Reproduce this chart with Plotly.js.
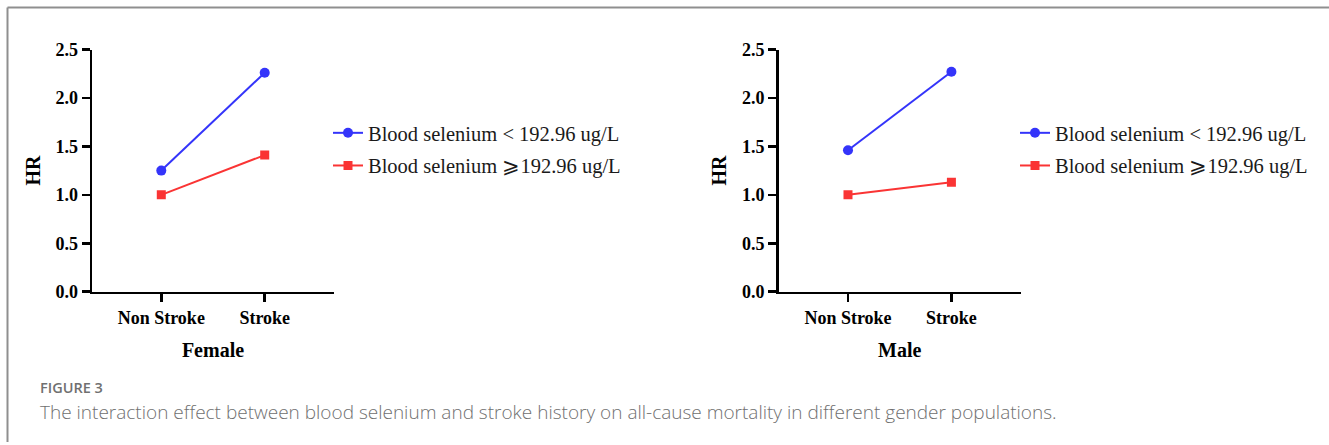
<!DOCTYPE html>
<html>
<head>
<meta charset="utf-8">
<script src="https://cdn.plot.ly/plotly-3.0.1.min.js"></script>
<style>html,body{margin:0;padding:0;background:#fff;}#chart{width:1329px;height:445px;}</style>
</head>
<body>
<div id="chart"></div>
<script>
// ---- data ----
var categories = ['Non Stroke', 'Stroke'];
var femaleLow = [1.25, 2.26];   // Blood selenium < 192.96 ug/L
var femaleHigh = [1.00, 1.41];  // Blood selenium >= 192.96 ug/L
var maleLow = [1.46, 2.27];
var maleHigh = [1.00, 1.13];
var seriesNames = ['Blood selenium < 192.96 ug/L', 'Blood selenium \u2a7e192.96 ug/L'];
var yTicks = [0, 0.5, 1.0, 1.5, 2.0, 2.5];
var panelTitles = ['Female', 'Male'];
var figureLabel = 'FIGURE 3';
var captionText = 'The interaction effect between blood selenium and stroke history on all-cause mortality in different gender populations.';

var W = 1329, H = 445;
function px(x){ return x / W; }
function py(y){ return 1 - y / H; }

var blue = 'rgb(52,52,250)';
var red = 'rgb(250,52,52)';
var serif = '"Liberation Serif", "Times New Roman", serif';

function mk(x, y, name, color, symbol, size, xa, ya, leg, grp){
  return {
    x: x, y: y, name: name, type: 'scatter', mode: 'lines+markers',
    xaxis: xa, yaxis: ya, legend: leg, legendgroup: grp,
    line: {color: color, width: 2},
    marker: {color: color, symbol: symbol, size: size},
    hoverinfo: 'x+y+name'
  };
}

var traces = [
  mk(categories, femaleLow, seriesNames[0], blue, 'circle', 10, 'x', 'y', 'legend', 'a1'),
  mk(categories, femaleHigh, seriesNames[1], red, 'square', 9, 'x', 'y', 'legend', 'a2'),
  mk(categories, maleLow, seriesNames[0], blue, 'circle', 10, 'x2', 'y2', 'legend2', 'b1'),
  mk(categories, maleHigh, seriesNames[1], red, 'square', 9, 'x2', 'y2', 'legend2', 'b2')
];

function xAxis(domain, anchor, title){
  return {
    domain: domain, anchor: anchor, type: 'category',
    range: [-0.67, 1.67], fixedrange: true,
    showline: true, linewidth: 2.5, linecolor: '#000',
    ticks: 'outside', ticklen: 8, tickwidth: 2.5, tickcolor: '#000',
    showgrid: false, zeroline: false,
    tickfont: {family: serif, size: 18, color: '#000', weight: 'bold'},
    title: {text: '<b>' + title + '</b>', font: {family: serif, size: 20, color: '#000'}, standoff: 16}
  };
}
function yAxis(domain, anchor){
  return {
    domain: domain, anchor: anchor, range: [0, 2.5], fixedrange: true,
    tickvals: yTicks, ticktext: yTicks.map(function(v){ return v.toFixed(1); }),
    showline: true, linewidth: 2.5, linecolor: '#000',
    ticks: 'outside', ticklen: 8, tickwidth: 2.5, tickcolor: '#000',
    showgrid: false, zeroline: false,
    tickfont: {family: serif, size: 18, color: '#000', weight: 'bold'},
    title: {text: '<b>HR</b>', font: {family: serif, size: 20, color: '#000'}, standoff: 10}
  };
}

var yDom = [py(291.7), py(49.5)];
var legendBase = {
  xanchor: 'left', yanchor: 'top', bgcolor: 'rgba(0,0,0,0)', borderwidth: 0,
  font: {family: serif, size: 20.5, color: '#1a1a1a'},
  traceorder: 'grouped', tracegroupgap: 3
};

var captionFont = '"Open Sans", sans-serif';

var layout = {
  width: W, height: H,
  margin: {l: 0, r: 0, t: 0, b: 0},
  paper_bgcolor: '#fff', plot_bgcolor: '#fff',
  showlegend: true,
  xaxis: xAxis([px(92), px(334)], 'y', panelTitles[0]),
  yaxis: yAxis(yDom, 'x'),
  xaxis2: xAxis([px(778.7), px(1020.7)], 'y2', panelTitles[1]),
  yaxis2: yAxis(yDom, 'x2'),
  legend: Object.assign({}, legendBase, {x: px(328), y: py(113)}),
  legend2: Object.assign({}, legendBase, {x: px(1015), y: py(113)}),
  shapes: [
    {type: 'line', xref: 'paper', yref: 'paper', x0: px(7.5), x1: 1, y0: py(7.5), y1: py(7.5), line: {color: '#8f8f8f', width: 2}},
    {type: 'line', xref: 'paper', yref: 'paper', x0: px(7.5), x1: px(7.5), y0: py(7.5), y1: py(442), line: {color: '#8f8f8f', width: 2}}
  ],
  annotations: [
    {xref: 'paper', yref: 'paper', x: px(39), y: py(398), xanchor: 'left', yanchor: 'bottom', showarrow: false, borderpad: 0,
     text: figureLabel, font: {family: captionFont, size: 14.5, color: '#707070', weight: 600}},
    {xref: 'paper', yref: 'paper', x: px(39), y: py(398), xanchor: 'left', yanchor: 'top', showarrow: false, borderpad: 0,
     text: captionText, font: {family: captionFont, size: 19, color: '#707070', weight: 300}}
  ]
};

Plotly.newPlot('chart', traces, layout, {displayModeBar: false, staticPlot: true});
</script>
</body>
</html>
